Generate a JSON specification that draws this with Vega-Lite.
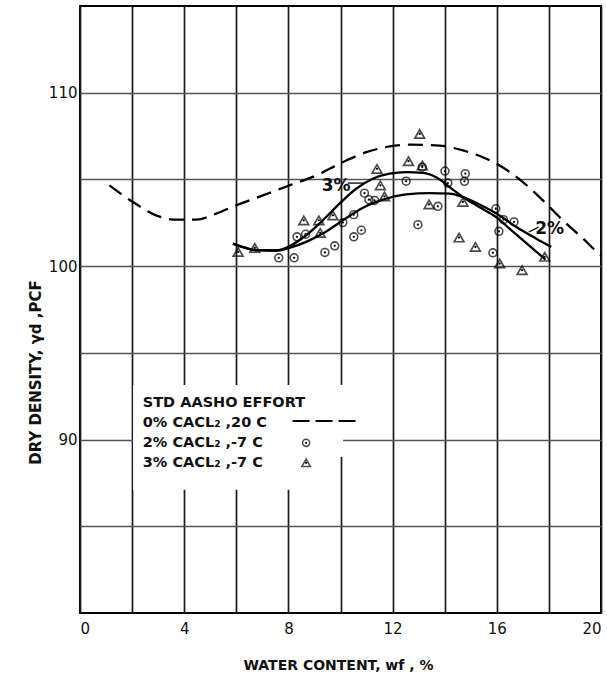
{
  "$schema": "https://vega.github.io/schema/vega-lite/v6.json",
  "width": 521,
  "height": 607,
  "autosize": {"type": "none"},
  "padding": {"left": 80, "top": 6, "right": 6, "bottom": 65},
  "background": "white",
  "config": {
    "view": {"stroke": "#000", "strokeWidth": 2},
    "font": "DejaVu Sans",
    "axis": {"labelColor": "#111", "titleColor": "#111", "labelFont": "DejaVu Sans", "titleFont": "DejaVu Sans", "titleFontWeight": "bold"}
  },
  "datasets": {
    "pts": [
      {"series": "3%", "x": 13.04, "y": 107.62},
      {"series": "3%", "x": 11.4, "y": 105.61},
      {"series": "3%", "x": 12.61, "y": 106.05},
      {"series": "3%", "x": 13.14, "y": 105.8},
      {"series": "3%", "x": 11.53, "y": 104.66},
      {"series": "3%", "x": 11.69, "y": 104.02},
      {"series": "3%", "x": 8.59, "y": 102.64},
      {"series": "3%", "x": 9.17, "y": 102.64},
      {"series": "3%", "x": 9.71, "y": 102.93},
      {"series": "3%", "x": 9.22, "y": 101.92},
      {"series": "3%", "x": 6.71, "y": 101.05},
      {"series": "3%", "x": 6.07, "y": 100.82},
      {"series": "3%", "x": 13.4, "y": 103.56},
      {"series": "3%", "x": 14.7, "y": 103.7},
      {"series": "3%", "x": 14.55, "y": 101.65},
      {"series": "3%", "x": 15.18, "y": 101.11},
      {"series": "3%", "x": 16.11, "y": 100.15},
      {"series": "3%", "x": 16.97, "y": 99.77},
      {"series": "3%", "x": 17.84, "y": 100.54},
      {"series": "2%", "x": 14.01, "y": 105.48},
      {"series": "2%", "x": 14.79, "y": 105.33},
      {"series": "2%", "x": 14.76, "y": 104.89},
      {"series": "2%", "x": 14.12, "y": 104.79},
      {"series": "2%", "x": 12.52, "y": 104.9},
      {"series": "2%", "x": 13.14, "y": 105.71},
      {"series": "2%", "x": 10.92, "y": 104.21},
      {"series": "2%", "x": 11.09, "y": 103.83},
      {"series": "2%", "x": 11.31, "y": 103.79},
      {"series": "2%", "x": 10.51, "y": 102.97},
      {"series": "2%", "x": 10.09, "y": 102.51},
      {"series": "2%", "x": 10.8, "y": 102.07},
      {"series": "2%", "x": 10.51, "y": 101.69},
      {"series": "2%", "x": 9.78, "y": 101.17},
      {"series": "2%", "x": 9.4, "y": 100.79},
      {"series": "2%", "x": 8.33, "y": 101.69},
      {"series": "2%", "x": 8.66, "y": 101.84},
      {"series": "2%", "x": 7.63, "y": 100.48},
      {"series": "2%", "x": 8.22, "y": 100.48},
      {"series": "2%", "x": 12.97, "y": 102.39},
      {"series": "2%", "x": 13.74, "y": 103.45},
      {"series": "2%", "x": 15.96, "y": 103.31},
      {"series": "2%", "x": 16.26, "y": 102.68},
      {"series": "2%", "x": 16.66, "y": 102.55},
      {"series": "2%", "x": 16.08, "y": 102.01},
      {"series": "2%", "x": 15.85, "y": 100.77}
    ],
    "legsym": [
      {"series": "2%", "x": 8.68, "y": 89.81},
      {"series": "3%", "x": 8.68, "y": 88.66}
    ],
    "curves": [
      {"series": "3%", "x": 5.87, "y": 101.3},
      {"series": "3%", "x": 6.3, "y": 101.08},
      {"series": "3%", "x": 6.76, "y": 100.92},
      {"series": "3%", "x": 7.53, "y": 100.92},
      {"series": "3%", "x": 8.04, "y": 101.15},
      {"series": "3%", "x": 8.68, "y": 101.78},
      {"series": "3%", "x": 9.32, "y": 102.64},
      {"series": "3%", "x": 9.96, "y": 103.6},
      {"series": "3%", "x": 10.6, "y": 104.46},
      {"series": "3%", "x": 11.24, "y": 105.04},
      {"series": "3%", "x": 11.88, "y": 105.33},
      {"series": "3%", "x": 12.52, "y": 105.42},
      {"series": "3%", "x": 13.16, "y": 105.38},
      {"series": "3%", "x": 13.67, "y": 105.13},
      {"series": "3%", "x": 14.19, "y": 104.56},
      {"series": "3%", "x": 14.8, "y": 103.89},
      {"series": "3%", "x": 15.4, "y": 103.35},
      {"series": "3%", "x": 16.0, "y": 102.8},
      {"series": "3%", "x": 16.5, "y": 102.15},
      {"series": "3%", "x": 17.0, "y": 101.5},
      {"series": "3%", "x": 17.5, "y": 100.85},
      {"series": "3%", "x": 17.87, "y": 100.38},
      {"series": "2%", "x": 5.87, "y": 101.3},
      {"series": "2%", "x": 6.76, "y": 100.92},
      {"series": "2%", "x": 7.53, "y": 100.88},
      {"series": "2%", "x": 8.04, "y": 101.05},
      {"series": "2%", "x": 8.68, "y": 101.4},
      {"series": "2%", "x": 9.32, "y": 101.88},
      {"series": "2%", "x": 10.09, "y": 102.64},
      {"series": "2%", "x": 10.86, "y": 103.37},
      {"series": "2%", "x": 11.63, "y": 103.83},
      {"series": "2%", "x": 12.52, "y": 104.14},
      {"series": "2%", "x": 13.42, "y": 104.21},
      {"series": "2%", "x": 14.19, "y": 104.18},
      {"series": "2%", "x": 14.7, "y": 103.98},
      {"series": "2%", "x": 15.28, "y": 103.6},
      {"series": "2%", "x": 16.0, "y": 103.02},
      {"series": "2%", "x": 16.75, "y": 102.26},
      {"series": "2%", "x": 17.5, "y": 101.6},
      {"series": "2%", "x": 18.09, "y": 101.11}
    ],
    "dashed": [
      {"x": 1.13, "y": 104.66},
      {"x": 2.03, "y": 103.7},
      {"x": 2.92, "y": 102.93},
      {"x": 3.69, "y": 102.68},
      {"x": 4.46, "y": 102.68},
      {"x": 5.23, "y": 103.03},
      {"x": 6.0, "y": 103.51},
      {"x": 7.02, "y": 104.08},
      {"x": 8.04, "y": 104.66},
      {"x": 9.07, "y": 105.23},
      {"x": 10.09, "y": 106.0},
      {"x": 10.99, "y": 106.57},
      {"x": 11.88, "y": 106.9},
      {"x": 12.65, "y": 107.01},
      {"x": 13.8, "y": 106.95},
      {"x": 14.7, "y": 106.67},
      {"x": 15.46, "y": 106.28},
      {"x": 16.11, "y": 105.8},
      {"x": 17.0, "y": 104.85},
      {"x": 17.77, "y": 103.79},
      {"x": 18.54, "y": 102.64},
      {"x": 19.31, "y": 101.59},
      {"x": 19.84, "y": 100.82},
      {"x": 20.0, "y": 100.6}
    ],
    "box": [
      {"x": 2.04, "x2": 9.96, "y": 87.1, "y2": 93.15},
      {"x": 9.9, "x2": 10.1, "y": 89.0, "y2": 93.15}
    ],
    "legtext": [
      {"text": "STD AASHO EFFORT", "x": 2.41, "y": 92.11},
      {"text": "0% CACL₂ ,20 C", "x": 2.41, "y": 90.96},
      {"text": "2% CACL₂ ,-7 C", "x": 2.41, "y": 89.81},
      {"text": "3% CACL₂ ,-7 C", "x": 2.41, "y": 88.66}
    ],
    "legdash": [
      {"x": 8.16, "x2": 10.62, "y": 91.07}
    ],
    "leaders": [
      {"x": 10.28, "x2": 10.96, "y": 104.79, "y2": 104.79},
      {"x": 17.23, "x2": 17.6, "y": 101.97, "y2": 102.25}
    ],
    "curvelabels": [
      {"text": "3%", "x": 9.83, "y": 104.61},
      {"text": "2%", "x": 18.03, "y": 102.17}
    ]
  },
  "encoding": {
    "x": {"field": "x", "type": "quantitative", "scale": {"domain": [0, 20], "nice": false, "zero": false},
      "axis": {"title": "WATER CONTENT, wf , %", "values": [0, 2, 4, 6, 8, 10, 12, 14, 16, 18, 20],
        "labelExpr": "datum.value % 4 === 0 ? datum.label : ''", "grid": true, "gridColor": "#1a1a1a", "gridWidth": 1.7,
        "ticks": false, "domain": false, "labelFontSize": 15, "labelPadding": 8, "titleFontSize": 14,
        "titleX": 258, "titleY": 52, "titleBaseline": "middle"}},
    "y": {"field": "y", "type": "quantitative", "scale": {"domain": [80, 115], "nice": false, "zero": false},
      "axis": {"title": "DRY DENSITY, γd ,PCF", "values": [85, 90, 95, 100, 105, 110],
        "labelExpr": "datum.value % 10 === 0 ? datum.label : ''", "grid": true, "gridColor": "#555", "gridWidth": 1.4,
        "ticks": false, "domain": false, "labelFontSize": 15, "labelPadding": 3, "titleFontSize": 15,
        "titleX": -45, "titleY": 366, "titleBaseline": "middle", "titleAlign": "center"}}
  },
  "layer": [
    {
      "data": {"name": "box"},
      "mark": {"type": "rect", "fill": "white", "stroke": null},
      "encoding": {
        "x2": {"field": "x2"},
        "y2": {"field": "y2"}
      }
    },
    {
      "data": {"name": "dashed"},
      "mark": {"type": "line", "interpolate": "monotone", "color": "black", "strokeWidth": 2.3, "strokeDash": [15, 8]},
      "encoding": {}
    },
    {
      "data": {"name": "curves"},
      "mark": {"type": "line", "interpolate": "monotone", "color": "black", "strokeWidth": 2.3},
      "encoding": {"detail": {"field": "series"}}
    },
    {
      "data": {"name": "pts"},
      "transform": [{"filter": "datum.series === '2%'"}],
      "mark": {"type": "point", "shape": "circle", "filled": false, "color": "black", "strokeWidth": 1.6, "size": 62}
    },
    {
      "data": {"name": "pts"},
      "transform": [{"filter": "datum.series === '3%'"}],
      "mark": {"type": "point", "shape": "triangle-up", "filled": false, "color": "black", "strokeWidth": 1.7, "size": 95}
    },
    {
      "data": {"name": "pts"},
      "mark": {"type": "point", "shape": "circle", "filled": true, "color": "black", "size": 5, "opacity": 1}
    },
    {
      "data": {"name": "legsym"},
      "transform": [{"filter": "datum.series === '2%'"}],
      "mark": {"type": "point", "shape": "circle", "filled": false, "color": "black", "strokeWidth": 1.5, "size": 50}
    },
    {
      "data": {"name": "legsym"},
      "transform": [{"filter": "datum.series === '3%'"}],
      "mark": {"type": "point", "shape": "triangle-up", "filled": false, "color": "black", "strokeWidth": 1.5, "size": 75}
    },
    {
      "data": {"name": "legsym"},
      "mark": {"type": "point", "shape": "circle", "filled": true, "color": "black", "size": 5, "opacity": 1}
    },
    {
      "data": {"name": "legdash"},
      "mark": {"type": "rule", "color": "black", "strokeWidth": 2, "strokeDash": [17, 6]},
      "encoding": {"x2": {"field": "x2"}}
    },
    {
      "data": {"name": "leaders"},
      "mark": {"type": "rule", "color": "black", "strokeWidth": 1.3},
      "encoding": {"x2": {"field": "x2"}, "y2": {"field": "y2"}}
    },
    {
      "data": {"name": "legtext"},
      "mark": {"type": "text", "align": "left", "baseline": "middle", "fontSize": 14.5, "fontWeight": "bold", "color": "#111", "font": "DejaVu Sans"},
      "encoding": {"text": {"field": "text"}}
    },
    {
      "data": {"name": "curvelabels"},
      "mark": {"type": "text", "align": "center", "baseline": "middle", "fontSize": 17, "fontWeight": "bold", "color": "#111", "font": "DejaVu Sans"},
      "encoding": {"text": {"field": "text"}}
    }
  ]
}
